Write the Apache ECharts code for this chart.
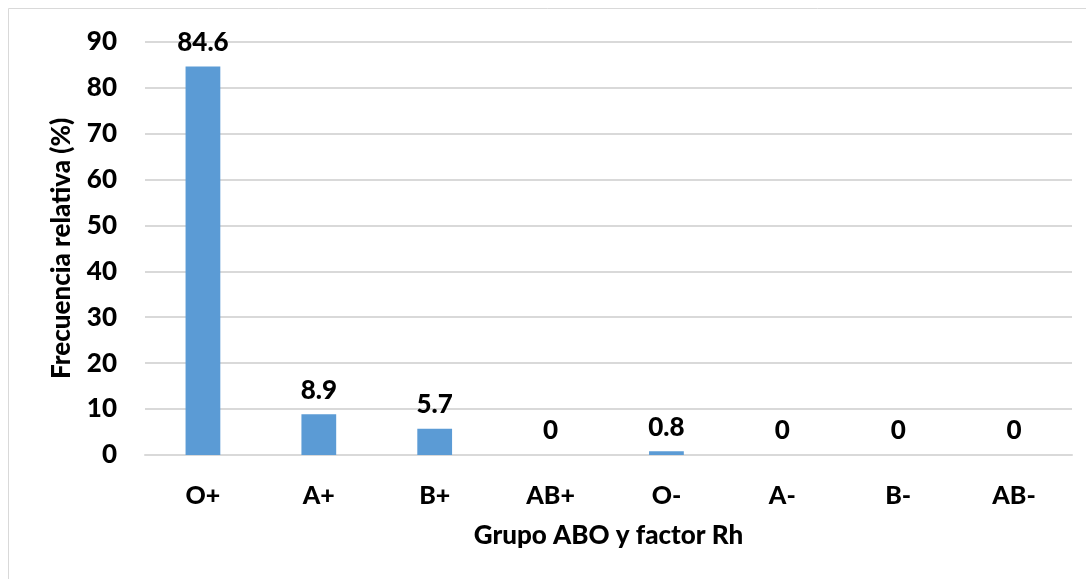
<!DOCTYPE html>
<html>
<head>
<meta charset="utf-8">
<script src="https://cdn.jsdelivr.net/npm/echarts@6/dist/echarts.min.js"></script>
<style>html,body{margin:0;padding:0;background:#fff;}#c{width:1086px;height:579px;}</style>
</head>
<body>
<div id="c"></div>
<script>
const categories = ['O+', 'A+', 'B+', 'AB+', 'O-', 'A-', 'B-', 'AB-'];
const values = [84.6, 8.9, 5.7, 0, 0.8, 0, 0, 0];
const xTitle = 'Grupo ABO y factor Rh';
const yTitle = 'Frecuencia relativa (%)';

const FONT = 'Lato';
const chart = echarts.init(document.getElementById('c'), null, {renderer: 'canvas'});
chart.setOption({
  animation: false,
  backgroundColor: '#fff',
  graphic: [{
    type: 'rect', silent: true,
    shape: {x: 8.5, y: 8.5, width: 1200, height: 700},
    style: {fill: 'none', stroke: '#d9d9d9', lineWidth: 1}
  }],
  grid: {left: 145, right: 14, top: 41.7, bottom: 124},
  xAxis: {
    type: 'category', data: categories,
    name: xTitle, nameLocation: 'middle', nameGap: 68,
    nameTextStyle: {fontFamily: FONT, fontWeight: 900, fontSize: 26, color: '#000'},
    axisLine: {show: true, lineStyle: {color: '#d9d9d9', width: 2}},
    axisTick: {show: false},
    axisLabel: {fontFamily: FONT, fontWeight: 900, fontSize: 25, color: '#000', margin: 28}
  },
  yAxis: {
    type: 'value', min: 0, max: 90, interval: 10,
    name: yTitle, nameLocation: 'middle', nameGap: 70,
    nameTextStyle: {fontFamily: FONT, fontWeight: 900, fontSize: 26, color: '#000'},
    axisLine: {show: false}, axisTick: {show: false},
    splitLine: {lineStyle: {color: '#d9d9d9', width: 2}},
    axisLabel: {fontFamily: FONT, fontWeight: 900, fontSize: 26, color: '#000', margin: 28}
  },
  series: [{
    type: 'bar', data: values, barWidth: '30%',
    itemStyle: {color: '#5b9bd5'},
    label: {show: true, position: 'top', distance: 11, fontFamily: FONT, fontWeight: 900, fontSize: 26, color: '#000'}
  }]
});
</script>
</body>
</html>
